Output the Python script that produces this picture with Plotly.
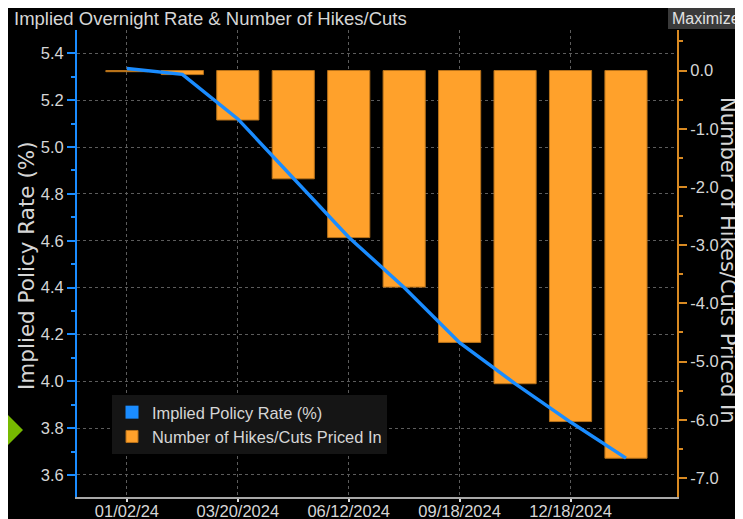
import plotly.graph_objects as go

# ---------------- data ----------------
meeting_dates = ["01/02/24", "01/31/2024", "03/20/2024", "05/01/2024", "06/12/2024",
                 "07/31/2024", "09/18/2024", "11/07/2024", "12/18/2024", "01/29/2025"]
implied_rate = [5.335, 5.31, 5.12, 4.865, 4.615, 4.40, 4.165, 3.99, 3.826, 3.672]
hikes_cuts = [-0.02, -0.07, -0.85, -1.86, -2.87, -3.72, -4.67, -5.38, -6.03, -6.66]

x_tick_vals = ["01/02/24", "03/20/2024", "06/12/2024", "09/18/2024", "12/18/2024"]
x_tick_text = ["01/02/24", "03/20/2024", "06/12/2024", "09/18/2024", "12/18/2024"]
right_tick_vals = [0, -1, -2, -3, -4, -5, -6, -7]
right_tick_text = ["0.0", "-1.0", "-2.0", "-3.0", "-4.0", "-5.0", "-6.0", "-7.0"]

title_text = "Implied Overnight Rate & Number of Hikes/Cuts"
left_title = "Implied Policy Rate (%)"
right_title = "Number of Hikes/Cuts Priced In"
rate_name = "Implied Policy Rate (%)"
bars_name = "Number of Hikes/Cuts Priced In"

# ---------------- style / layout (viewport pixel coordinates) ----------------
VIEW_W, VIEW_H = 743, 519
OFF = 8                      # default page body margin
FIG_W, FIG_H = VIEW_W - OFF, VIEW_H - OFF
L, R, T, B = 77, 677, 30, 497   # plot area in viewport pixels
BLUE = "#1a8cff"
ORANGE = "#ffa12b"
ORANGE_EDGE = "#b8721a"
ORANGE_AXIS = "#d98a22"
TXT = "#d6d6d6"
SANS = "Liberation Sans, Arial, sans-serif"
WIDE = "DejaVu Sans, Verdana, sans-serif"


def px(x):
    return (x - L) / (R - L)


def py(y):
    return (B - y) / (B - T)


fig = go.Figure()

fig.add_trace(go.Bar(
    x=meeting_dates, y=hikes_cuts, name=bars_name, yaxis="y",
    marker=dict(color=ORANGE, line=dict(color=ORANGE_EDGE, width=1)),
    width=0.76, legendrank=2))

fig.add_trace(go.Scatter(
    x=meeting_dates, y=implied_rate, name=rate_name, yaxis="y2",
    mode="lines", line=dict(color=BLUE, width=3.4), showlegend=False))

# legend swatch for the rate line (square, as in the reference)
fig.add_trace(go.Scatter(
    x=[None], y=[None], name=rate_name, yaxis="y2", mode="markers",
    marker=dict(symbol="square", size=13, color=BLUE), legendrank=1))

shapes = [
    # Maximize button
    dict(type="rect", xref="paper", yref="paper",
         x0=px(668), x1=px(VIEW_W + 2), y0=py(7), y1=py(29),
         fillcolor="#3a3a3a", line=dict(width=0)),
    # green arrow at the left edge
    dict(type="path", xref="paper", yref="paper",
         path="M {:.4f} {:.4f} L {:.4f} {:.4f} L {:.4f} {:.4f} Z".format(
             px(-2), py(405), px(23), py(430), px(-2), py(455)),
         fillcolor="#76b900", line=dict(width=0)),
]

annotations = [
    dict(text=title_text, xref="paper", yref="paper", x=px(12), y=py(18),
         xanchor="left", yanchor="middle", showarrow=False,
         font=dict(family=SANS, size=18.5, color=TXT)),
    dict(text="Maximize", xref="paper", yref="paper", x=px(706), y=py(18),
         xanchor="center", yanchor="middle", showarrow=False,
         font=dict(family=SANS, size=16, color="#e2e2e2")),
    dict(text=left_title, xref="paper", yref="paper", x=px(26), y=py(266),
         xanchor="center", yanchor="middle", showarrow=False, textangle=-90,
         font=dict(family=WIDE, size=21.5, color=TXT)),
    dict(text=right_title, xref="paper", yref="paper", x=px(728), y=py(260),
         xanchor="center", yanchor="middle", showarrow=False, textangle=90,
         font=dict(family=WIDE, size=21, color=TXT)),
]

fig.update_layout(
    width=FIG_W, height=FIG_H,
    margin=dict(l=L - OFF, r=VIEW_W - R, t=T - OFF, b=VIEW_H - B, pad=0),
    paper_bgcolor="#000000",
    plot_bgcolor="#000000",
    showlegend=True,
    legend=dict(x=px(112), y=py(395), xanchor="left", yanchor="top",
                bgcolor="#151515", borderwidth=0,
                font=dict(family=SANS, size=16.4, color=TXT),
                itemwidth=30, tracegroupgap=0),
    xaxis=dict(type="category", range=[-0.9, 9.92], automargin=False,
               tickmode="array", tickvals=x_tick_vals, ticktext=x_tick_text,
               showline=True, linecolor="#a8a8a8", linewidth=2,
               ticks="outside", ticklen=3, tickcolor="#dddddd", tickwidth=2,
               ticklabelstandoff=-5,
               showgrid=True, gridcolor="#5c5c5c", griddash="dot", gridwidth=1,
               tickfont=dict(family=SANS, size=16.5, color=TXT),
               zeroline=False, fixedrange=True),
    yaxis=dict(side="right", range=[-7.326, 0.696], automargin=False,
               tickmode="array", tickvals=right_tick_vals, ticktext=right_tick_text,
               showline=True, linecolor=ORANGE_AXIS, linewidth=2,
               ticks="outside", ticklen=8, tickwidth=2, tickcolor=ORANGE_AXIS,
               minor=dict(dtick=0.5, ticks="outside", ticklen=4, tickcolor=ORANGE_AXIS, showgrid=False),
               showgrid=False, zeroline=False,
               tickfont=dict(family=SANS, size=16.5, color=TXT)),
    yaxis2=dict(side="left", overlaying="y", range=[3.506, 5.4995], automargin=False,
                tick0=3.6, dtick=0.2, tickformat=".1f",
                showline=True, linecolor=BLUE, linewidth=2,
                ticks="outside", ticklen=8, tickwidth=2, tickcolor=BLUE,
                minor=dict(dtick=0.1, ticks="outside", ticklen=4, tickcolor=BLUE, showgrid=False),
                showgrid=True, gridcolor="#5c5c5c", griddash="dot", gridwidth=1,
                zeroline=False,
                tickfont=dict(family=SANS, size=16.5, color=TXT)),
    shapes=shapes,
    annotations=annotations,
    bargap=0.24,
)

fig.write_html("out.html")
